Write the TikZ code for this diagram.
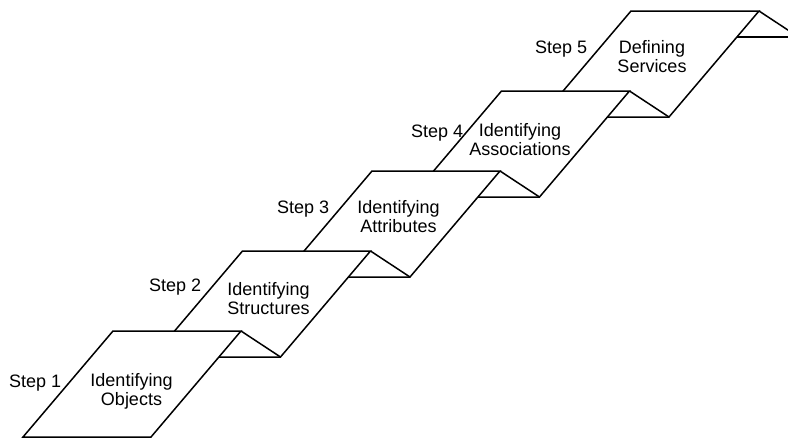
\documentclass[tikz,border=0pt]{standalone}
\usepackage{fontspec}
\setmainfont{Liberation Sans}
\usetikzlibrary{calc}

\begin{document}
\begin{tikzpicture}[x=1pt, y=-1pt, line width=1.5pt,
  stepbox/.style={draw, fill=white},
  steplabel/.style={anchor=base east, inner sep=0pt, font=\fontsize{18}{19}\selectfont},
  tasklabel/.style={anchor=north, inner sep=0pt, align=center, font=\fontsize{18}{19}\selectfont}]
  \useasboundingbox (0,0) rectangle (788,439);
  \clip (0,0) rectangle (788,439);
  % stairs, top step first so that each lower step covers the one above
  \foreach \i in {4,...,0}{
    \coordinate (tl\i) at ({113+129.5*\i},{331-80*\i});
    \coordinate (tr\i) at ($(tl\i)+(128,0)$);
    \coordinate (br\i) at ($(tr\i)+(-90,106)$);
    \coordinate (bl\i) at ($(tl\i)+(-90,106)$);
    \coordinate (fold\i) at ($(tl\i)+(167.5,26)$);
    \draw[stepbox] (tl\i) -- (tr\i) -- (br\i) -- (bl\i) -- cycle;
    \draw (tr\i) -- (fold\i);
  }
  \coordinate (edge4) at ($(tr4)+(-22,26)$);
  \draw (edge4) -- (fold4);
  % labels
  \foreach \i/\x/\y in {1/62/387, 2/202/291, 3/330/213, 4/464/137, 5/588/53}
    \node[steplabel] (step\i) at (\x,\y) {Step \i};
  \foreach \i/\x/\y/\txt in {1/131.5/373/{Identifying\\Objects},
      2/268.5/282/{Identifying\\Structures}, 3/398.5/200/{Identifying\\Attributes},
      4/520/123/{Identifying\\Associations}, 5/652/40/{Defining\\Services}}
    \node[tasklabel] (task\i) at (\x,\y) {\txt};
\end{tikzpicture}
\end{document}
